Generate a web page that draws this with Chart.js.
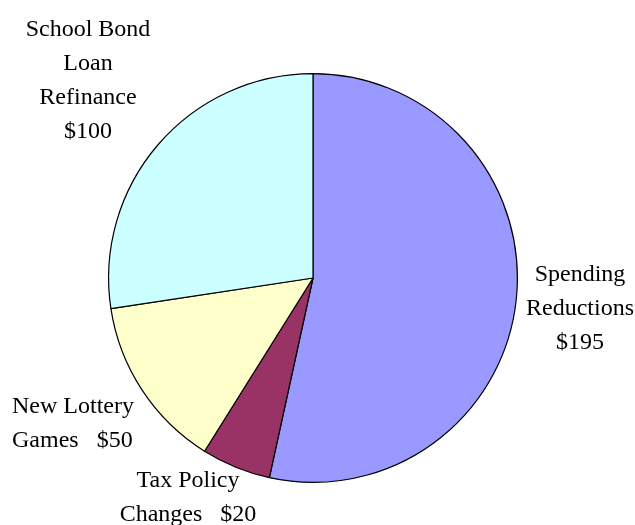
<!DOCTYPE html>
<html>
<head>
<meta charset="utf-8">
<script src="https://cdn.jsdelivr.net/npm/chart.js@4/dist/chart.umd.min.js"></script>
<style>
html,body{margin:0;padding:0;background:#fff;}
canvas{display:block;}
</style>
</head>
<body>
<canvas id="c" width="635" height="525"></canvas>
<script>
const categories = ["Spending Reductions", "Tax Policy Changes", "New Lottery Games", "School Bond Loan Refinance"];
const values = [195, 20, 50, 100];
const labelLines = [
  ["Spending", "Reductions", "$195"],
  ["Tax Policy", "Changes   $20"],
  ["New Lottery", "Games   $50"],
  ["School Bond", "Loan", "Refinance", "$100"]
];
const colors = ["#9999ff", "#993366", "#ffffcc", "#ccffff"];

// label placement (pixels): anchor x, first line y, alignment
const labelPlace = [
  {x: 580, y: 275, align: "center"},
  {x: 188, y: 481, align: "center"},
  {x: 12,  y: 407, align: "left"},
  {x: 88,  y: 30,  align: "center"}
];

const labelPlugin = {
  id: "sliceLabels",
  afterDraw(chart) {
    const ctx = chart.ctx;
    ctx.save();
    ctx.fillStyle = "#000";
    ctx.font = "24px 'Liberation Serif', 'Times New Roman', serif";
    ctx.textBaseline = "middle";
    labelLines.forEach((lines, i) => {
      const p = labelPlace[i];
      ctx.textAlign = p.align;
      lines.forEach((t, j) => ctx.fillText(t, p.x, p.y + j * 34));
    });
    ctx.restore();
  }
};

new Chart(document.getElementById("c"), {
  type: "pie",
  data: {
    labels: categories,
    datasets: [{
      data: values,
      backgroundColor: colors,
      borderColor: "#000",
      borderWidth: 1.2
    }]
  },
  options: {
    responsive: false,
    animation: false,
    layout: {padding: {left: 108, right: 117, top: 73, bottom: 42}},
    plugins: {legend: {display: false}, tooltip: {enabled: false}}
  },
  plugins: [labelPlugin]
});
</script>
</body>
</html>
